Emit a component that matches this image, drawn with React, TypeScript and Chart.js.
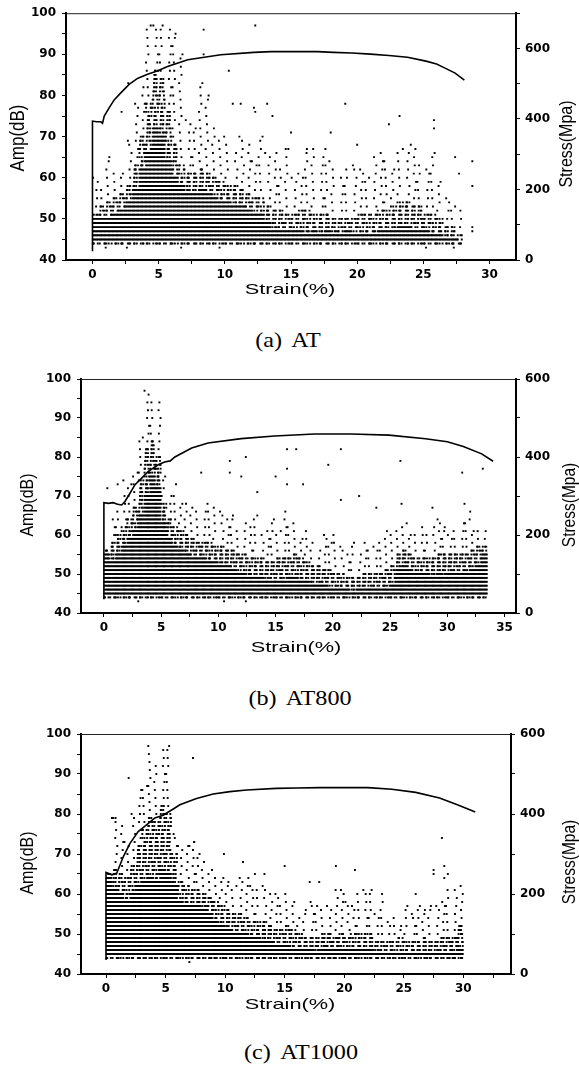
import React, { useEffect, useRef } from 'react';
import { Chart, registerables } from 'chart.js';

Chart.register(...registerables);

// ---------- shared tick values ----------
const ampTicks = [40, 45, 50, 55, 60, 65, 70, 75, 80, 85, 90, 95, 100];
const xTicksA = [0, 2.5, 5, 7.5, 10, 12.5, 15, 17.5, 20, 22.5, 25, 27.5, 30];
const xTicksB = [0, 2.5, 5, 7.5, 10, 12.5, 15, 17.5, 20, 22.5, 25, 27.5, 30, 32.5, 35];
const xTicksC = [0, 2.5, 5, 7.5, 10, 12.5, 15, 17.5, 20, 22.5, 25, 27.5, 30, 32.5];
const stressTicksA = [0, 100, 200, 300, 400, 500, 600, 700];
const stressTicksBC = [0, 100, 200, 300, 400, 500, 600];

// AE hits are summarised per 0.5 % strain column: top dB of the dense band,
// of the medium band and of the sparse band.
const COL_WIDTH = 0.5;

// ---------- (a) AT ----------
const aDenseTop = [50, 50, 50, 51, 52, 54, 57, 62, 66, 72, 70, 64, 60, 58, 56, 56, 57, 56, 55, 54, 54, 53, 53, 52, 51, 51, 49, 47, 47, 47, 47, 47, 46, 47, 46, 47, 46, 46, 47, 46, 46, 46, 46, 47, 47, 47, 48, 48, 47, 47, 47, 46, 46, 45, 45, 44];
const aMediumTop = [51, 53, 54, 55, 56, 58, 63, 70, 78, 86, 84, 76, 68, 63, 61, 61, 62, 61, 60, 59, 58, 58, 57, 56, 55, 55, 53, 52, 52, 51, 51, 52, 52, 51, 51, 51, 50, 50, 50, 50, 51, 51, 51, 52, 52, 53, 54, 54, 53, 53, 51, 51, 50, 48, 48, 46];
const aSparseTop = [60, 57, 65, 61, 61, 69, 78, 82, 97, 97, 97, 96, 95, 90, 74, 72, 83, 80, 72, 70, 68, 66, 70, 68, 64, 70, 66, 66, 62, 67, 60, 61, 66, 67, 65, 64, 62, 60, 62, 63, 62, 60, 65, 66, 64, 62, 67, 66, 68, 63, 62, 66, 59, 55, 53, 52];
const aOutliers = [[12.3, 97], [8.4, 96], [8.4, 90], [10.3, 86], [11.2, 78], [12.2, 77], [12.3, 76], [13.2, 78], [13.6, 75], [19.1, 78], [22.4, 73], [23.2, 75], [25.8, 74], [25.8, 72], [18, 71], [15, 71], [20, 68], [27.4, 65], [28.7, 64], [28.7, 58], [28.7, 48], [28.7, 47], [27.7, 61], [2.2, 76], [2.7, 83], [10.6, 78], [9.6, 43], [6.7, 43], [2.6, 43], [1, 43], [25.2, 43], [27.3, 43], [14.8, 67], [16.2, 67], [17.6, 67]];
const aStressStrain = [0, 0, 0.3, 0.63, 0.76, 0.89, 1.27, 1.64, 2.14, 2.77, 3.4, 4.16, 4.9, 5.67, 7.2, 9.7, 12.2, 13.5, 15.4, 17, 18.2, 19.6, 21, 22.4, 23.8, 25.2, 26, 26.6, 27.4, 28.1];
const aStressMpa = [25, 394, 392, 392, 388, 408, 432, 454, 474, 498, 515, 527, 536, 549, 568, 582, 589, 591, 591, 591, 589, 587, 584, 580, 575, 564, 556, 545, 530, 510];

// ---------- (b) AT800 ----------
const bDenseTop = [55, 53, 55, 57, 59, 61, 65, 70, 75, 72, 63, 59, 57, 56, 55, 54, 54, 54, 53, 53, 52, 52, 51, 50, 50, 49, 49, 49, 48, 48, 48, 48, 49, 49, 48, 48, 47, 47, 47, 46, 46, 46, 46, 45, 46, 46, 46, 46, 46, 46, 47, 51, 52, 51, 50, 50, 50, 49, 50, 49, 50, 50, 50, 50, 51, 52, 55];
const bMediumTop = [56, 58, 60, 62, 64, 67, 74, 82, 84, 80, 68, 64, 62, 61, 60, 59, 58, 58, 58, 57, 57, 56, 56, 55, 55, 54, 54, 54, 53, 53, 54, 54, 54, 55, 54, 53, 52, 52, 51, 51, 50, 50, 49, 49, 49, 50, 50, 50, 50, 51, 52, 55, 56, 55, 54, 54, 54, 54, 55, 55, 55, 55, 55, 55, 56, 57, 57];
const bSparseTop = [56, 64, 66, 70, 73, 76, 85, 97, 94, 94, 75, 70, 70, 68, 68, 67, 66, 66, 68, 67, 66, 64, 65, 61, 63, 62, 65, 60, 61, 64, 61, 66, 62, 63, 59, 61, 58, 56, 60, 58, 60, 57, 55, 58, 55, 58, 56, 57, 58, 61, 60, 61, 63, 60, 60, 62, 60, 62, 64, 62, 60, 61, 63, 64, 61, 61, 61];
const bOutliers = [[16, 82], [16.8, 82], [20.7, 82], [19.6, 78], [16, 77], [11, 79], [12.4, 80], [11, 76], [12, 75], [15, 75], [16, 73], [17.4, 73], [8.5, 76], [6.3, 73], [13.4, 71], [22.3, 70], [20.7, 69], [25.9, 79], [31.3, 76], [33.1, 77], [23.8, 67], [0.3, 72], [1.2, 73], [1.7, 74], [31.5, 68], [28.7, 67], [32, 66], [26, 68], [3, 43], [10.5, 43], [12.4, 43]];
const bStressStrain = [0, 0, 0.4, 0.8, 1.2, 1.56, 1.84, 2.28, 2.72, 3.3, 3.88, 4.75, 5.3, 5.8, 6.2, 7.67, 9.1, 12, 14.9, 18.4, 21.6, 24.9, 28.1, 30, 31.4, 33, 34];
const bStressMpa = [35, 283, 281, 283, 279, 277, 286, 307, 329, 346, 363, 380, 387, 390, 400, 423, 436, 447, 454, 459, 459, 456, 447, 439, 427, 408, 389];

// ---------- (c) AT1000 ----------
const cDenseTop = [64, 61, 60, 58, 60, 62, 63, 64, 63, 66, 65, 62, 58, 57, 57, 57, 56, 55, 53, 52, 51, 50, 50, 50, 49, 49, 48, 48, 47, 47, 47, 46, 46, 46, 46, 45, 46, 46, 46, 46, 46, 46, 46, 46, 46, 45, 45, 45, 45, 45, 45, 45, 45, 45, 45, 45, 45, 45, 45, 46];
const cMediumTop = [65, 66, 65, 64, 67, 72, 76, 79, 78, 82, 80, 70, 63, 62, 61, 61, 60, 59, 58, 57, 56, 55, 55, 54, 53, 53, 53, 52, 51, 51, 52, 51, 50, 49, 49, 49, 50, 50, 49, 50, 49, 50, 50, 50, 50, 48, 48, 48, 48, 49, 48, 48, 48, 49, 48, 48, 49, 49, 49, 52];
const cSparseTop = [65, 79, 77, 73, 80, 86, 87, 97, 92, 96, 97, 75, 72, 72, 73, 70, 68, 66, 64, 64, 63, 62, 64, 64, 62, 61, 62, 60, 60, 57, 60, 58, 54, 56, 58, 57, 56, 57, 61, 61, 58, 57, 60, 61, 61, 55, 60, 53, 54, 52, 57, 55, 57, 56, 57, 57, 58, 61, 61, 62];
const cOutliers = [[7.3, 94], [28.2, 74], [27.5, 66], [27.5, 65], [28.4, 67], [28.7, 65], [20.9, 66], [19.3, 67], [15, 67], [28.4, 64], [7, 72], [7.4, 73], [9.9, 70], [11.5, 68], [12.5, 65], [13.3, 65], [17.1, 63], [17.9, 63], [26, 60], [1.9, 89], [0.5, 79], [0.8, 79], [7, 43]];
const cStressStrain = [0, 0, 0.5, 0.9, 1.45, 2, 2.7, 3.4, 4.1, 4.8, 5.78, 6.2, 7.6, 9, 10.4, 11.8, 14.3, 16, 18, 20, 22, 24, 26, 28, 29.5, 31];
const cStressMpa = [35, 254, 248, 252, 293, 326, 356, 373, 390, 397, 415, 423, 439, 450, 456, 460, 464, 465, 466, 466, 466, 462, 454, 440, 423, 405];

type Pt = { x: number; y: number };

// fixed in-column placement pattern (fractions of a column), used to spread hits
const SPREAD = [0.1, 0.55, 0.3, 0.8, 0.45, 0.7, 0.2, 0.9, 0.35, 0.6];

function expandHits(dense: number[], medium: number[], sparse: number[], outliers: number[][]): Pt[] {
  const pts: Pt[] = [];
  for (let i = 0; i < dense.length; i++) {
    const x0 = i * COL_WIDTH;
    const d = dense[i];
    const m = medium[i];
    const s = sparse[i];
    const at = (f: number, y: number) => pts.push({ x: x0 + f * COL_WIDTH, y });
    for (let k = 0; k < 3; k++) at(SPREAD[(i * 7 + k * 3) % 10], 44);
    for (let y = 45; y <= d; y++) {
      for (const f of [0.1, 0.3, 0.5, 0.7, 0.9]) at(f, y);
    }
    for (let y = d + 1; y <= m; y++) {
      for (let k = 0; k < 3; k++) at(SPREAD[(y * 3 + i * 7 + k * 3) % 10], y);
    }
    for (let y = m + 1; y <= s; y++) {
      if ((y - m) % 2 === 0 || y === s) at(SPREAD[(y * 7 + i * 3) % 10], y);
    }
  }
  for (const [x, y] of outliers) pts.push({ x, y });
  return pts;
}

function zipCurve(xs: number[], ys: number[]): Pt[] {
  return xs.map((x, i) => ({ x, y: ys[i] }));
}

const W = 579;

const PANELS = [
  {
    id: 'a', canvasTop: 0, canvasHeight: 315, padTop: 12, leftW: 66, rightW: 63, xAxisH: 55,
    xMin: -2, xMax: 32, stressMax: 700, xTicks: xTicksA, stressTicks: stressTicksA,
    hits: expandHits(aDenseTop, aMediumTop, aSparseTop, aOutliers),
    curve: zipCurve(aStressStrain, aStressMpa),
    titles: [
      { text: 'Amp(dB)', x: 18.5, y: 138, size: 17, sx: 1.2, rot: true },
      { text: 'Stress(Mpa)', x: 567, y: 144, size: 16, sx: 1.2, rot: true },
      { text: 'Strain(%)', x: 290, y: 290, size: 15, sx: 1.45, rot: false },
    ],
    caption: { text: '(a) AT', x: 288, y: 340 },
  },
  {
    id: 'b', canvasTop: 355, canvasHeight: 310, padTop: 24, leftW: 81, rightW: 63, xAxisH: 52,
    xMin: -2, xMax: 36, stressMax: 600, xTicks: xTicksB, stressTicks: stressTicksBC,
    hits: expandHits(bDenseTop, bMediumTop, bSparseTop, bOutliers),
    curve: zipCurve(bStressStrain, bStressMpa),
    titles: [
      { text: 'Amp(dB)', x: 27.7, y: 150, size: 16, sx: 1.2, rot: true },
      { text: 'Stress(Mpa)', x: 570, y: 150, size: 15.5, sx: 1.2, rot: true },
      { text: 'Strain(%)', x: 296, y: 293, size: 15, sx: 1.45, rot: false },
    ],
    caption: { text: '(b) AT800', x: 300, y: 698 },
  },
  {
    id: 'c', canvasTop: 710, canvasHeight: 320, padTop: 24, leftW: 81, rightW: 68, xAxisH: 56,
    xMin: -2.1, xMax: 34, stressMax: 600, xTicks: xTicksC, stressTicks: stressTicksBC,
    hits: expandHits(cDenseTop, cMediumTop, cSparseTop, cOutliers),
    curve: zipCurve(cStressStrain, cStressMpa),
    titles: [
      { text: 'Amp(dB)', x: 27.7, y: 153, size: 16, sx: 1.2, rot: true },
      { text: 'Stress(Mpa)', x: 570, y: 152, size: 15.5, sx: 1.2, rot: true },
      { text: 'Strain(%)', x: 290, y: 295, size: 15, sx: 1.45, rot: false },
    ],
    caption: { text: '(c) AT1000', x: 301, y: 1052 },
  },
];

const TICK_FONT = { family: '"DejaVu Sans", sans-serif', size: 12, weight: 'bold' as const };

const panelPlugin = {
  id: 'panelDecor',
  afterDraw(chart: any, _args: any, opts: any) {
    const ctx: CanvasRenderingContext2D = chart.ctx;
    const area = chart.chartArea;
    ctx.save();
    ctx.strokeStyle = '#222';
    ctx.lineWidth = 1;
    ctx.beginPath();
    ctx.moveTo(area.left, area.top + 0.5);
    ctx.lineTo(area.right, area.top + 0.5);
    ctx.stroke();
    ctx.restore();
    for (const t of opts.items || []) {
      ctx.save();
      ctx.translate(t.x, t.y);
      ctx.scale(t.sx, 1);
      if (t.rot) ctx.rotate(-Math.PI / 2);
      ctx.font = `${t.size}px "Liberation Sans", Arial, sans-serif`;
      ctx.fillStyle = '#000';
      ctx.textAlign = 'center';
      ctx.textBaseline = 'middle';
      ctx.fillText(t.text, 0, 0);
      ctx.restore();
    }
  },
};

function PanelChart({ p }: { p: (typeof PANELS)[number] }) {
  const ref = useRef<HTMLCanvasElement | null>(null);
  useEffect(() => {
    if (!ref.current) return;
    const chart = new Chart(ref.current, {
      type: 'scatter',
      data: {
        datasets: [
          {
            data: p.curve,
            yAxisID: 'y1',
            showLine: true,
            borderColor: '#000',
            borderWidth: 1.6,
            pointRadius: 0,
            tension: 0,
            fill: false,
          } as any,
          {
            data: p.hits,
            yAxisID: 'y',
            pointStyle: 'rect',
            pointRadius: 1.35,
            backgroundColor: '#000',
            borderWidth: 0,
          } as any,
        ],
      },
      plugins: [panelPlugin as any],
      options: {
        responsive: false,
        animation: false,
        events: [],
        layout: { padding: { top: p.padTop, left: 0, right: 0, bottom: 0 } },
        plugins: {
          legend: { display: false },
          tooltip: { enabled: false },
          panelDecor: { items: p.titles },
        } as any,
        scales: {
          x: {
            type: 'linear',
            position: 'bottom',
            min: p.xMin,
            max: p.xMax,
            afterBuildTicks: (s: any) => { s.ticks = p.xTicks.map((v) => ({ value: v })); },
            afterFit: (s: any) => { s.height = p.xAxisH; },
            ticks: {
              autoSkip: false,
              maxRotation: 0,
              padding: 4,
              color: '#000',
              font: TICK_FONT,
              callback: (v: any) => (Number(v) % 5 === 0 ? String(v) : ''),
            },
            grid: { drawOnChartArea: false, drawTicks: true, tickLength: 4, color: '#000', lineWidth: 1 },
            border: { display: true, color: '#000', width: 2 },
          },
          y: {
            type: 'linear',
            position: 'left',
            min: 40,
            max: 100,
            afterBuildTicks: (s: any) => { s.ticks = ampTicks.map((v) => ({ value: v })); },
            afterFit: (s: any) => { s.width = p.leftW; },
            ticks: {
              autoSkip: false,
              padding: 6,
              color: '#000',
              font: TICK_FONT,
              callback: (v: any) => (Number(v) % 10 === 0 ? String(v) : ''),
            },
            grid: { drawOnChartArea: false, drawTicks: true, tickLength: 4, color: '#000', lineWidth: 1 },
            border: { display: true, color: '#000', width: 2 },
          },
          y1: {
            type: 'linear',
            position: 'right',
            min: 0,
            max: p.stressMax,
            afterBuildTicks: (s: any) => { s.ticks = p.stressTicks.map((v) => ({ value: v })); },
            afterFit: (s: any) => { s.width = p.rightW; },
            ticks: {
              autoSkip: false,
              padding: 5,
              color: '#000',
              font: TICK_FONT,
              callback: (v: any) => (Number(v) % 200 === 0 ? String(v) : ''),
            },
            grid: { drawOnChartArea: false, drawTicks: true, tickLength: 4, color: '#000', lineWidth: 1 },
            border: { display: true, color: '#000', width: 2 },
          },
        },
      } as any,
    });
    return () => chart.destroy();
  }, [p]);
  return (
    <canvas
      ref={ref}
      width={W}
      height={p.canvasHeight}
      style={{ position: 'absolute', left: 0, top: p.canvasTop, width: W, height: p.canvasHeight }}
    />
  );
}

export default function App() {
  return (
    <div style={{ position: 'absolute', left: 0, top: 0, width: W, height: 1071, background: '#fff', overflow: 'hidden' }}>
      {PANELS.map((p) => (
        <React.Fragment key={p.id}>
          <PanelChart p={p} />
          <div
            style={{
              position: 'absolute',
              left: p.caption.x,
              top: p.caption.y,
              transform: 'translate(-50%, -50%) scaleX(1.15)',
              fontFamily: '"Liberation Serif", "Times New Roman", serif',
              fontSize: 21,
              lineHeight: 1,
              whiteSpace: 'nowrap',
              wordSpacing: 4,
              color: '#000',
            }}
          >
            {p.caption.text}
          </div>
        </React.Fragment>
      ))}
    </div>
  );
}
